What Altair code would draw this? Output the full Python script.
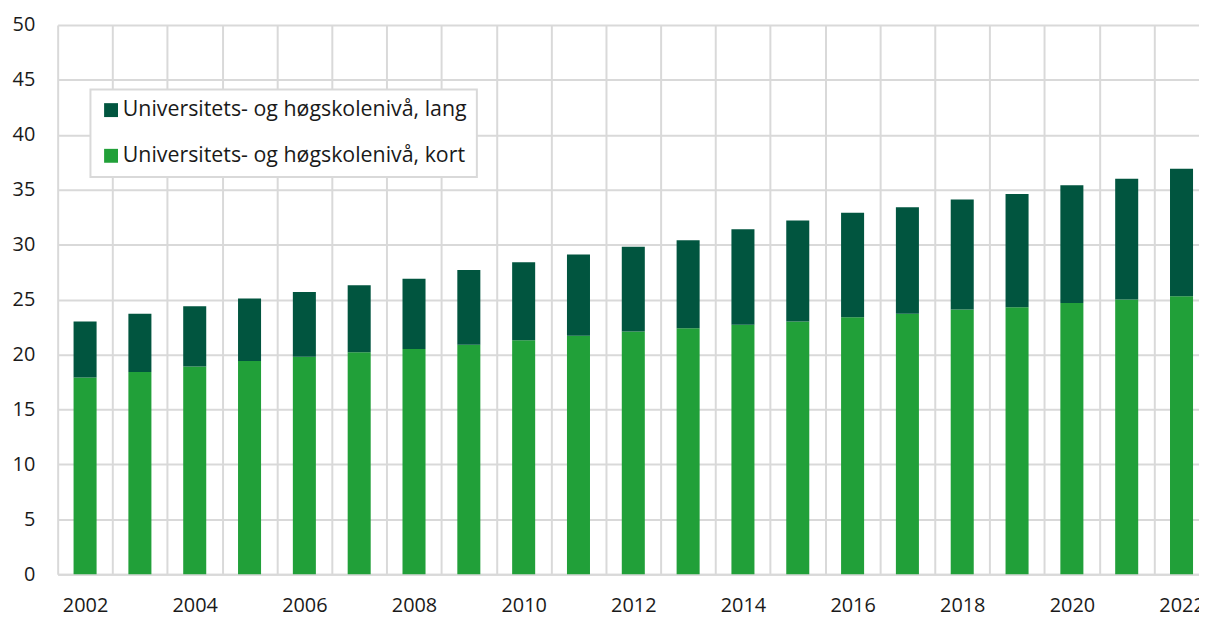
import altair as alt
import pandas as pd

years = [str(y) for y in range(2002, 2023)]
totals = [23.0, 23.7, 24.4, 25.1, 25.7, 26.3, 26.9, 27.7, 28.4, 29.1, 29.8,
          30.4, 31.4, 32.2, 32.9, 33.4, 34.1, 34.6, 35.4, 36.0, 36.9]
short = [17.9, 18.4, 18.9, 19.4, 19.8, 20.2, 20.5, 20.9, 21.3, 21.7, 22.1,
         22.4, 22.7, 23.0, 23.4, 23.7, 24.1, 24.3, 24.7, 25.0, 25.3]
long_ = [round(t - s, 2) for t, s in zip(totals, short)]

series_long = "Universitets- og høgskolenivå, lang"
series_short = "Universitets- og høgskolenivå, kort"
series = [series_long, series_short]
colors = ["#01553f", "#21a039"]

rows = []
for y, s, l in zip(years, short, long_):
    rows.append({"year": y, "series": series_short, "value": s, "ord": 0})
    rows.append({"year": y, "series": series_long, "value": l, "ord": 1})
df = pd.DataFrame(rows)

FONT = "Open Sans"
GRID = "#d9d9d9"
TXT = "#1a1a1a"

chart = alt.Chart(df).mark_bar(width={"band": 0.42}).encode(
    x=alt.X("year:O", title=None,
            scale=alt.Scale(range=[0, 1159], paddingInner=0, paddingOuter=0),
            axis=alt.Axis(labelAngle=0, tickBand="extent", grid=True, ticks=False,
                          labelExpr="toNumber(datum.value) % 2 == 0 ? datum.label : ''",
                          labelPadding=22, domainColor=GRID, domainWidth=2)),
    y=alt.Y("value:Q", title=None, stack="zero",
            scale=alt.Scale(domain=[0, 50], nice=False),
            axis=alt.Axis(values=list(range(0, 51, 5)), ticks=False, domain=False,
                          labelPadding=23)),
    color=alt.Color("series:N", title=None,
                    scale=alt.Scale(domain=series, range=colors),
                    legend=alt.Legend(orient="none", legendX=33, legendY=65,
                                      fillColor="white", strokeColor=GRID,
                                      padding=10, symbolType="square",
                                      symbolSize=196, symbolStrokeWidth=0,
                                      labelFontSize=21.5, labelLimit=0,
                                      rowPadding=23, labelOffset=1,
                                      labelColor=TXT, labelFont=FONT)),
    order=alt.Order("ord:Q", sort="ascending"),
).properties(
    width=1149, height=553,
    autosize=alt.AutoSizeParams(type="none"),
    padding={"left": 50, "top": 15, "right": 0, "bottom": 41},
).configure_axis(
    labelFont=FONT, labelFontSize=20, labelColor=TXT,
    gridColor=GRID, gridWidth=2,
).configure_view(stroke=None).configure_legend(strokeWidth=2)

chart.save("out.html", embed_options={"renderer": "svg", "actions": False})
